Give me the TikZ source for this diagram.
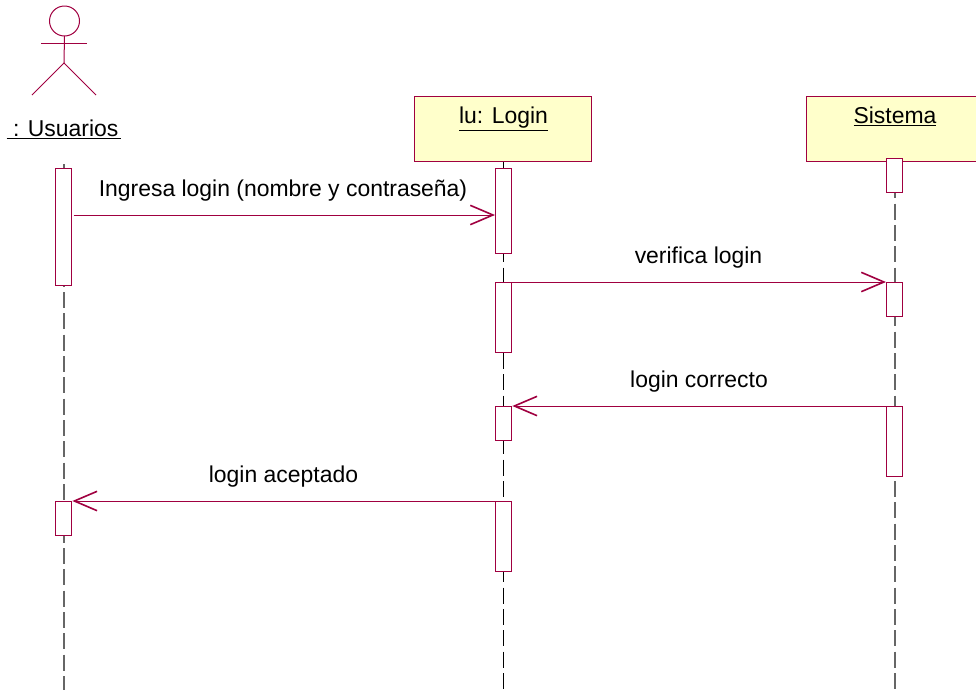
\documentclass[tikz,border=0pt]{standalone}
\usepackage{fontspec}
\setmainfont{Liberation Sans}
\usetikzlibrary{arrows.meta,backgrounds}
\definecolor{rosered}{RGB}{160,0,64}
\definecolor{boxyellow}{RGB}{255,255,203}

\begin{document}
\begin{tikzpicture}[x=0.75pt,y=-0.75pt,
  every node/.style={font=\fontsize{17.2}{20}\selectfont,inner sep=0pt,outer sep=0pt},
  object/.style={draw=rosered,fill=boxyellow,line width=0.75pt,minimum width=132.75pt,minimum height=48.75pt},
  activation/.style={draw=rosered,fill=white,line width=0.75pt,minimum width=12pt},
  lifeline/.style={draw=black!60,line width=1pt,dash pattern=on 12pt off 4pt},
  message/.style={draw=rosered,line width=0.75pt,-{Straight Barb[length=17pt,width=14.5pt,line width=1.2pt]}},
  actor/.style={draw=rosered,line width=0.75pt}]
\clip (0,0) rectangle (976,690);
% objects
\node [circle,actor,minimum size=22.5pt] (usrHead) at (64.5,21) {};
\coordinate (usrHip) at (64,63);
\coordinate (usrArmL) at (41,43);
\coordinate (usrArmR) at (87,43);
\coordinate (usrFootL) at (32,95);
\coordinate (usrFootR) at (96,95);
\draw [actor] (usrHead.south) -- (usrHip);
\draw [actor] (usrArmL) -- (usrArmR);
\draw [actor] (usrFootL) -- (usrHip) -- (usrFootR);
\node [anchor=base] (usrLabel) at (64,136) {\underline{\ : Usuarios\kern2.2pt}};
\node [object] (logBox) at (502.5,128.5) {};
\node [object] (sisBox) at (895,128.5) {};
\node [anchor=base] (logLabel) at (503.5,123.5) {\underline{lu: Login}};
\node [anchor=base] (sisLabel) at (895,123.5) {\underline{Sistema}};
% activations
\node [activation,minimum height=87.75pt] (usrAct1) at (63,226.5) {};
\node [activation,minimum height=25.5pt] (usrAct2) at (63,518) {};
\node [activation,minimum height=63.75pt] (logAct1) at (503,210.5) {};
\node [activation,minimum height=52.5pt] (logAct2) at (503,317) {};
\node [activation,minimum height=25.5pt] (logAct3) at (503,423) {};
\node [activation,minimum height=52.5pt] (logAct4) at (503,536) {};
\node [activation,minimum height=25.5pt] (sisAct1) at (894,175) {};
\node [activation,minimum height=25.5pt] (sisAct2) at (894,299) {};
\node [activation,minimum height=52.5pt] (sisAct3) at (894,441) {};
% lifelines
\coordinate (usrTop) at (64,164);
\coordinate (usrEnd) at (64,690);
\coordinate (logEnd) at (503,690);
\coordinate (sisEnd) at (895,690);
\begin{scope}[on background layer]
\draw [lifeline] (usrTop) -- (usrEnd);
\draw [lifeline,draw=black,line width=0.6pt] (logBox.south -| logEnd) -- (logEnd);
\draw [lifeline] (sisBox.south -| sisEnd) -- (sisEnd);
\end{scope}
% messages
\coordinate (msgOne) at (0,215);
\draw [message] ([xshift=2pt]usrAct1.east |- msgOne) -- (logAct1.west |- msgOne);
\node [anchor=base] (msgOneLabel) at (283,196) {Ingresa login (nombre y contraseña)};
\draw [message] (logAct2.north east) -- (sisAct2.north west);
\node [anchor=base] (msgTwoLabel) at (698.5,263) {verifica login};
\draw [message] (sisAct3.north west) -- ([xshift=1pt]logAct3.north east);
\node [anchor=base] (msgThreeLabel) at (699,387) {login correcto};
\draw [message] (logAct4.north west) -- ([xshift=1pt]usrAct2.north east);
\node [anchor=base] (msgFourLabel) at (283.5,482) {login aceptado};
\end{tikzpicture}
\end{document}
